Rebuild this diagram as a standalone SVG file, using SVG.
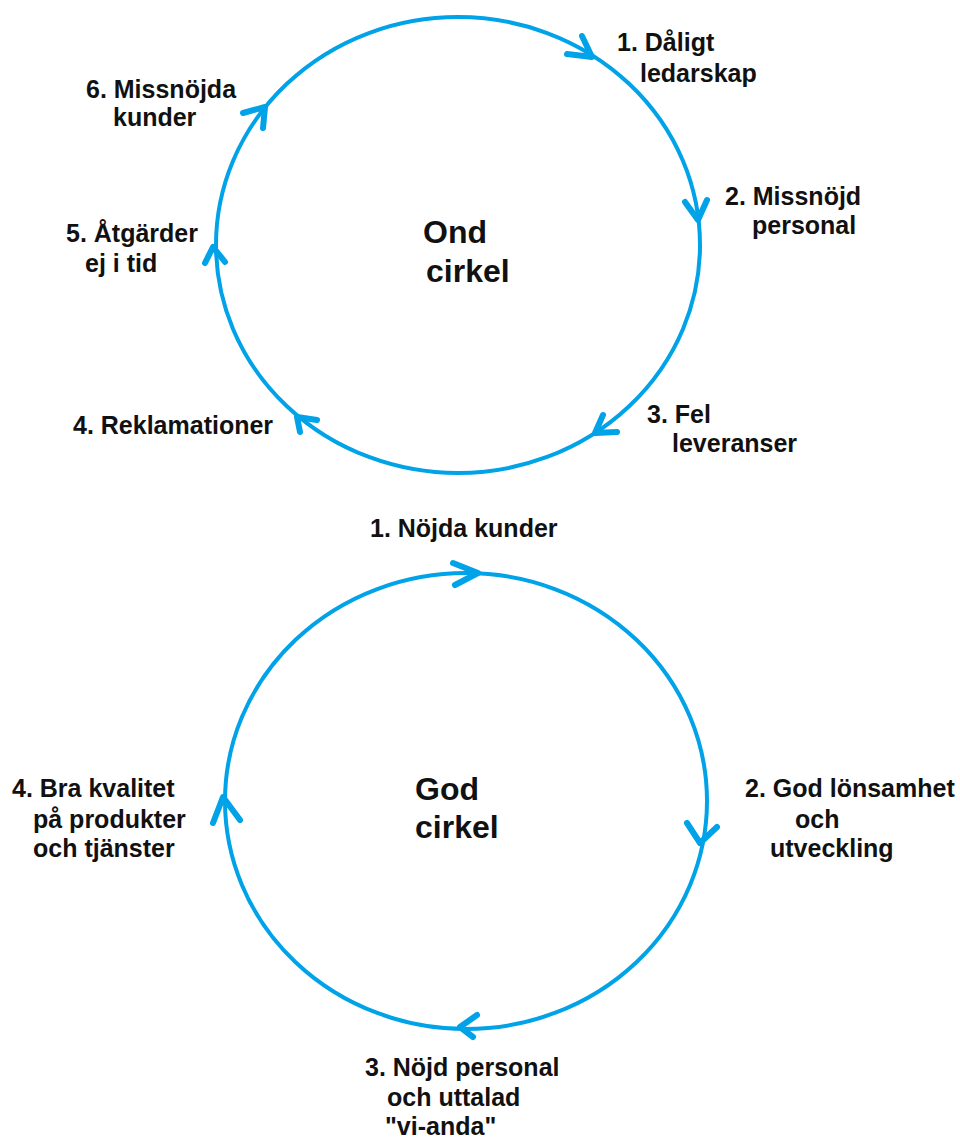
<svg xmlns="http://www.w3.org/2000/svg" width="960" height="1138" viewBox="0 0 960 1138">
<style>
.ring{fill:none;stroke:#00a2e8;stroke-width:4}
.head{fill:none;stroke:#00a2e8;stroke-width:6;stroke-linecap:round;stroke-linejoin:round}
.lbl{font-family:"Liberation Sans",Arial,sans-serif;font-weight:bold;font-size:25px;fill:#111}
.title{font-family:"Liberation Sans",Arial,sans-serif;font-weight:bold;font-size:32px;fill:#111}
</style>
<rect width="960" height="1138" fill="#fff"/>
<g id="connectors">
<ellipse class="ring" cx="458" cy="245" rx="242" ry="228"/>
<polyline class="head" points="567,54 592,57 582,36"/>
<polyline class="head" points="685,202 698,220 707,200"/>
<polyline class="head" points="603,415 595,433 617,432"/>
<polyline class="head" points="317,420 297,417 300,432"/>
<polyline class="head" points="205,263 213,247 225,262"/>
<polyline class="head" points="243,113 265,107 263,128"/>
<ellipse class="ring" cx="466" cy="801" rx="241" ry="228"/>
<polyline class="head" points="453,563 478,573 455,585"/>
<polyline class="head" points="687,823 700,843 717,827"/>
<polyline class="head" points="477,1015 460,1027 473,1037"/>
<polyline class="head" points="213,823 223,797 240,820"/>
</g>
<g id="ond-center"><text class="title" x="423" y="243">Ond</text><text class="title" x="426" y="282">cirkel</text></g>
<g id="ond-1"><text class="lbl" x="617" y="51">1. Dåligt</text><text class="lbl" x="640" y="82">ledarskap</text></g>
<g id="ond-2"><text class="lbl" x="725" y="205">2. Missnöjd</text><text class="lbl" x="752" y="234">personal</text></g>
<g id="ond-3"><text class="lbl" x="647" y="423">3. Fel</text><text class="lbl" x="672" y="452">leveranser</text></g>
<g id="ond-4"><text class="lbl" x="73" y="434">4. Reklamationer</text></g>
<g id="ond-5"><text class="lbl" x="66" y="242">5. Åtgärder</text><text class="lbl" x="85" y="272">ej i tid</text></g>
<g id="ond-6"><text class="lbl" x="86" y="98">6. Missnöjda</text><text class="lbl" x="113" y="126">kunder</text></g>
<g id="god-center"><text class="title" x="415" y="800">God</text><text class="title" x="415" y="838">cirkel</text></g>
<g id="god-1"><text class="lbl" x="370" y="537">1. Nöjda kunder</text></g>
<g id="god-2"><text class="lbl" x="745" y="797">2. God lönsamhet</text><text class="lbl" x="795" y="828">och</text><text class="lbl" x="770" y="857">utveckling</text></g>
<g id="god-3"><text class="lbl" x="365" y="1076">3. Nöjd personal</text><text class="lbl" x="387" y="1106">och uttalad</text><text class="lbl" x="385" y="1135">"vi-anda"</text></g>
<g id="god-4"><text class="lbl" x="12" y="797">4. Bra kvalitet</text><text class="lbl" x="33" y="828">på produkter</text><text class="lbl" x="33" y="857">och tjänster</text></g>
</svg>
